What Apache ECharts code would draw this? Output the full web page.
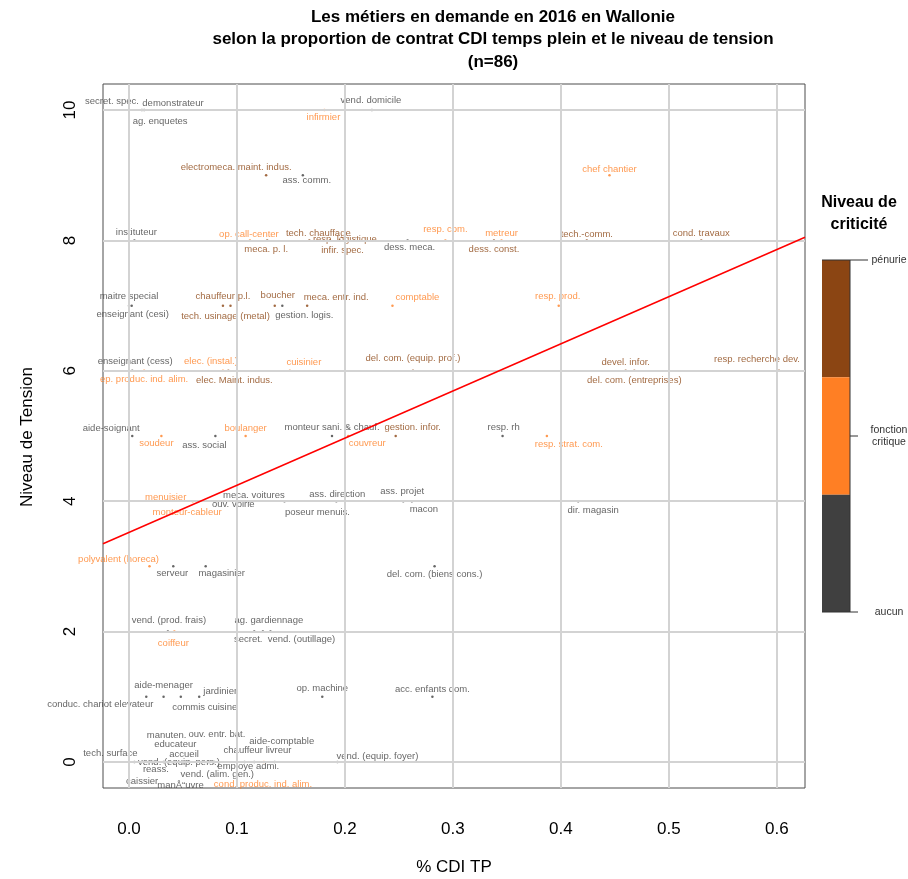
<!DOCTYPE html>
<html><head><meta charset="utf-8">
<script src="https://cdn.jsdelivr.net/npm/echarts@6/dist/echarts.min.js"></script>
<style>html,body{margin:0;padding:0;background:#fff}#c{width:908px;height:879px}</style>
</head><body><div id="c"></div>
<script>
// ---- DATA ----
const metiers = [
 'secret. spec.','demonstrateur','ag. enquetes','infirmier','vend. domicile',
 'electromeca. maint. indus.','ass. comm.','chef chantier',
 'instituteur','op. call-center','meca. p. l.','tech. chauffage','resp. logistique','infir. spec.','dess. meca.','resp. com.','metreur','dess. const.','tech.-comm.','cond. travaux',
 'maitre special','enseignant (cesi)','chauffeur p.l.','tech. usinage (metal)','boucher','gestion. logis.','meca. entr. ind.','comptable','resp. prod.',
 'enseignant (cess)','ep. produc. ind. alim.','elec. (instal.)','elec. Maint. indus.','cuisinier','del. com. (equip. prof.)','devel. infor.','del. com. (entreprises)','resp. recherche dev.',
 'aide-soignant','soudeur','ass. social','boulanger','monteur sani. & chauf.','couvreur','gestion. infor.','resp. rh','resp. strat. com.',
 'menuisier','monteur-cableur','meca. voitures','ouv. voirie','poseur menuis.','ass. direction','ass. projet','macon','dir. magasin',
 'polyvalent (horeca)','serveur','magasinier','del. com. (biens cons.)',
 'vend. (prod. frais)','coiffeur','ag. gardiennage','secret.','vend. (outillage)',
 'aide-menager','conduc. chariot elevateur','jardinier','commis cuisine','op. machine','acc. enfants dom.',
 'vend. (equip. foyer)','tech. surface','manuten.','ouv. entr. bat.','educateur','accueil','aide-comptable','chauffeur livreur','vend. (equip. pers.)','reass.','employe admi.','vend. (alim. gen.)','caissier','manÅ“uvre','cond. produc. ind. alim.'
];
const cdiTP = [
 0.000,0.012,0.014,0.181,0.225,
 0.127,0.161,0.445,
 0.005,0.112,0.128,0.167,0.186,0.195,0.258,0.293,0.345,0.338,0.424,0.530,
 0.000,0.0025,0.087,0.094,0.135,0.142,0.165,0.244,0.398,
 0.003,0.014,0.087,0.092,0.149,0.263,0.460,0.468,0.602,
 0.003,0.030,0.080,0.108,0.188,0.203,0.247,0.346,0.387,
 0.059,0.064,0.111,0.079,0.144,0.192,0.254,0.262,0.416,
 0.019,0.041,0.071,0.283,
 0.036,0.042,0.124,0.116,0.131,
 0.032,0.016,0.065,0.048,0.179,0.281,
 0.193,0.005,0.032,0.074,0.042,0.051,0.135,0.107,0.037,0.023,0.116,0.079,0.014,0.056,0.125
];
const tension = [
 10,10,10,10,10,
 9,9,9,
 8,8,8,8,8,8,8,8,8,8,8,8,
 7,7,7,7,7,7,7,7,7,
 6,6,6,6,6,6,6,6,6,
 5,5,5,5,5,5,5,5,5,
 4,4,4,4,4,4,4,4,4,
 3,3,3,3,
 2,2,2,2,2,
 1,1,1,1,1,1,
 0,0,0,0,0,0,0,0,0,0,0,0,0,0,0
];
// 0 = aucun, 1 = fonction critique, 2 = pénurie
const criticite = [
 0,0,0,1,0,
 2,0,1,
 0,1,2,2,2,2,0,1,1,2,2,2,
 0,0,2,2,2,0,2,1,1,
 0,1,1,2,1,2,2,2,2,
 0,1,0,1,0,1,2,0,1,
 1,1,0,0,0,0,0,0,0,
 1,0,0,0,
 0,1,0,0,0,
 0,0,0,0,0,0,
 0,0,0,0,0,0,0,0,0,0,0,0,0,0,1
];
const critLabels = ['aucun', 'fonction\ncritique', 'pénurie'];
const xTicks = [0, 0.1, 0.2, 0.3, 0.4, 0.5, 0.6];
const yTicks = [0, 2, 4, 6, 8, 10];

// ---- LAYOUT / STYLE (label placement in px relative to point) ----
const labelOffsets = [
 [-17,-9],[31,-7],[16,11],[-1,7],[-1,-10],
 [-30,-8],[4,5],[0,-6],
 [2,-8],[-1,-6],[-1,9],[9,-7],[15,-1],[3,10],[2,7],[0,-11],[0,-7],[0,9],[0,-6],[0,-7],
 [0,-9],[1,9],[0,-9],[-5,11],[3,-10],[22,10],[29,-8],[25,-8],[-1,-9],
 [3,-9],[0,9],[-12,-9],[6,10],[14,-8],[0,-12],[0,-8],[0,10],[-22,-11],
 [-21,-8],[-5,7],[-11,9],[0,-8],[0,-9],[19,7],[17,-9],[1,-9],[22,8],
 [-27,-4],[-11,11],[5,-6],[19,3],[33,11],[1,-7],[-1,-10],[12,8],[15,9],
 [-31,-7],[-1,7],[16,7],[0,8],
 [1,-11],[-1,12],[6,-11],[-6,8],[31,8],
 [0,-11],[-46,8],[21,-5],[24,11],[0,-8],[0,-7],
 [40,-6],[-24,-9],[3,-27],[8,-28],[1,-18],[0,-8],[7,-21],[13,-12],[10,0],[2,7],[-6,4],[3,12],[-2,19],[-9,23],[-1,22]
];
const palette = ['#404040', '#FF7F24', '#8B4513'];
const FONT = 'Liberation Sans, Arial, Helvetica, sans-serif';

// axis extents like R (4% padding)
const xmn = Math.min(...cdiTP), xmx = Math.max(...cdiTP);
const ymn = Math.min(...tension), ymx = Math.max(...tension);
const xMin = xmn - 0.04 * (xmx - xmn), xMax = xmx + 0.04 * (xmx - xmn);
const yMin = ymn - 0.04 * (ymx - ymn), yMax = ymx + 0.04 * (ymx - ymn);

// least squares fit (abline(lm(tension ~ cdi)))
const n = cdiTP.length;
const mx = cdiTP.reduce((a, b) => a + b, 0) / n;
const my = tension.reduce((a, b) => a + b, 0) / n;
let sxy = 0, sxx = 0;
for (let i = 0; i < n; i++) { sxy += (cdiTP[i] - mx) * (tension[i] - my); sxx += (cdiTP[i] - mx) ** 2; }
const slope = sxy / sxx, intercept = my - slope * mx;

const points = metiers.map((m, i) => ({
  name: m,
  value: [cdiTP[i], tension[i]],
  itemStyle: { color: palette[criticite[i]] },
  label: { color: palette[criticite[i]], offset: labelOffsets[i] }
}));

const chart = echarts.init(document.getElementById('c'), null, { renderer: 'canvas' });
const legX = 822, legW = 28, legTop = 260, legBot = 612;
const segH = (legBot - legTop) / 3;
chart.setOption({
  animation: false,
  backgroundColor: '#fff',
  grid: { left: 103, right: 103, top: 84, bottom: 91, show: true, borderColor: '#4d4d4d', borderWidth: 1, backgroundColor: 'transparent' },
  xAxis: {
    type: 'value', min: xMin, max: xMax,
    splitLine: { show: false },
    axisLine: { show: false },
    axisTick: { show: true, customValues: xTicks, length: 10, lineStyle: { color: '#4d4d4d' } },
    axisLabel: { customValues: xTicks, formatter: v => v.toFixed(1), fontSize: 17, color: '#000', margin: 33, fontFamily: FONT }
  },
  yAxis: {
    type: 'value', min: yMin, max: yMax,
    splitLine: { show: false },
    axisLine: { show: false },
    axisTick: { show: true, customValues: yTicks, length: 10, lineStyle: { color: '#4d4d4d' } },
    axisLabel: { customValues: yTicks, rotate: 90, fontSize: 17, color: '#000', margin: 24, fontFamily: FONT }
  },
  series: [
    {
      type: 'scatter', data: [], z: 1, silent: true,
      markLine: {
        silent: true, symbol: 'none', label: { show: false },
        lineStyle: { color: '#d3d3d3', width: 2, type: 'solid' },
        data: xTicks.map(v => ({ xAxis: v })).concat(yTicks.map(v => ({ yAxis: v })))
      }
    },
    {
      type: 'scatter', data: points, symbol: 'circle', symbolSize: 2.5, z: 3, silent: true,
      label: { show: true, position: 'inside', formatter: '{b}', fontSize: 9.5, fontFamily: FONT }
    },
    {
      type: 'line', z: 5, silent: true, symbol: 'none',
      data: [[xMin, intercept + slope * xMin], [xMax, intercept + slope * xMax]],
      lineStyle: { color: '#ff0000', width: 1.5 }
    }
  ],
  graphic: [
    { type: 'text', x: 493, y: 6, style: { text: 'Les métiers en demande en 2016 en Wallonie\nselon la proportion de contrat CDI temps plein et le niveau de tension\n(n=86)', textAlign: 'center', fontSize: 17, fontWeight: 'bold', fontFamily: FONT, lineHeight: 22.5, fill: '#000' } },
    { type: 'text', x: 454, y: 867, style: { text: '% CDI TP', textAlign: 'center', textVerticalAlign: 'middle', fontSize: 17, fontFamily: FONT, fill: '#000' } },
    { type: 'text', x: 27, y: 437, rotation: Math.PI / 2, style: { text: 'Niveau de Tension', textAlign: 'center', textVerticalAlign: 'middle', fontSize: 17, fontFamily: FONT, fill: '#000' } },
    { type: 'text', x: 859, y: 192, style: { text: 'Niveau de\ncriticité', textAlign: 'center', fontSize: 16, fontWeight: 'bold', fontFamily: FONT, lineHeight: 22, fill: '#000' } },
    { type: 'rect', shape: { x: legX, y: legTop, width: legW, height: segH }, style: { fill: palette[2] } },
    { type: 'rect', shape: { x: legX, y: legTop + segH, width: legW, height: segH }, style: { fill: palette[1] } },
    { type: 'rect', shape: { x: legX, y: legTop + 2 * segH, width: legW, height: segH }, style: { fill: palette[0] } },
    { type: 'line', shape: { x1: legX + legW, y1: legTop, x2: legX + legW, y2: legBot }, style: { stroke: '#333', lineWidth: 1 } },
    { type: 'line', shape: { x1: legX, y1: legTop, x2: legX + legW + 18, y2: legTop }, style: { stroke: '#333', lineWidth: 1 } },
    { type: 'line', shape: { x1: legX + legW, y1: (legTop + legBot) / 2, x2: legX + legW + 8, y2: (legTop + legBot) / 2 }, style: { stroke: '#333', lineWidth: 1 } },
    { type: 'line', shape: { x1: legX, y1: legBot, x2: legX + legW + 8, y2: legBot }, style: { stroke: '#333', lineWidth: 1 } },
    { type: 'text', x: 889, y: legTop, style: { text: critLabels[2], textAlign: 'center', textVerticalAlign: 'middle', fontSize: 10.5, fontFamily: FONT, fill: '#333' } },
    { type: 'text', x: 889, y: (legTop + legBot) / 2, style: { text: critLabels[1], textAlign: 'center', textVerticalAlign: 'middle', fontSize: 10.5, fontFamily: FONT, fill: '#333', lineHeight: 12 } },
    { type: 'text', x: 889, y: legBot, style: { text: critLabels[0], textAlign: 'center', textVerticalAlign: 'middle', fontSize: 10.5, fontFamily: FONT, fill: '#333' } }
  ]
});
</script></body></html>
